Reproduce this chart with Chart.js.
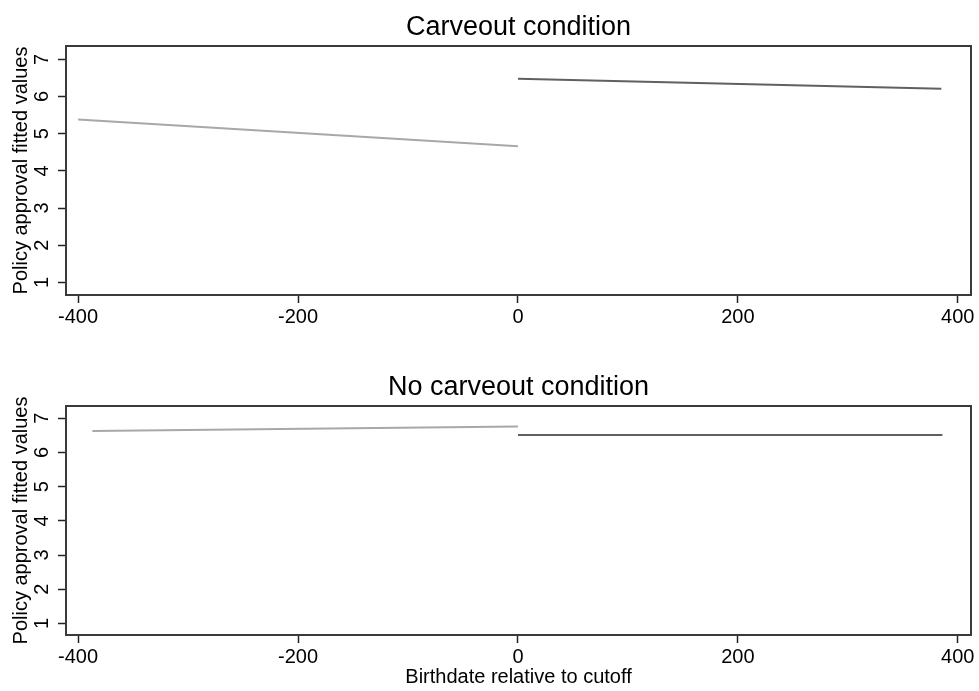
<!DOCTYPE html>
<html>
<head>
<meta charset="utf-8">
<script src="https://cdn.jsdelivr.net/npm/chart.js@4/dist/chart.umd.min.js"></script>
<style>
  html, body { margin: 0; padding: 0; background: #fff; }
  #wrap { position: relative; width: 979px; height: 691px; }
  .panel { position: absolute; left: 0; width: 979px; }
  #top { top: 0; height: 340px; }
  #bottom { top: 340px; height: 351px; }
</style>
</head>
<body>
<div id="wrap">
  <div class="panel" id="top"><canvas id="carveChart"></canvas></div>
  <div class="panel" id="bottom"><canvas id="noCarveChart"></canvas></div>
</div>
<script>
// fitted values on each side of the cutoff (days)
const xTicks = [-400, -200, 0, 200, 400];
const yTicks = [1, 2, 3, 4, 5, 6, 7];

const carveLeftX = [-400, 0];
const carveLeftY = [5.38, 4.66];
const carveRightX = [0, 385];
const carveRightY = [6.48, 6.21];

const noCarveLeftX = [-387, 0];
const noCarveLeftY = [6.63, 6.76];
const noCarveRightX = [0, 386];
const noCarveRightY = [6.51, 6.51];

const FONT = 'Liberation Sans, Arial, Helvetica, sans-serif';

// box around the plot region
const frame = {
  id: 'frame',
  afterDraw(chart) {
    const { ctx, chartArea: a } = chart;
    ctx.save();
    ctx.strokeStyle = '#3a3a3a';
    ctx.lineWidth = 2;
    ctx.strokeRect(a.left, a.top, a.right - a.left, a.bottom - a.top);
    ctx.restore();
  }
};

// panel heading centred over the plot region rather than the canvas
const panelTitle = {
  id: 'panelTitle',
  afterDraw(chart, args, o) {
    const { ctx, chartArea: a } = chart;
    ctx.save();
    ctx.fillStyle = '#000';
    ctx.font = '27px ' + FONT;
    ctx.textAlign = 'center';
    ctx.textBaseline = 'middle';
    ctx.fillText(o.text, (a.left + a.right) / 2, o.y);
    ctx.restore();
  }
};

function pts(xs, ys) {
  return xs.map((x, i) => ({ x, y: ys[i] }));
}

function makePanel(id, title, left, right, opts) {
  return new Chart(document.getElementById(id), {
    type: 'scatter',
    data: {
      datasets: [
        { data: pts(left.x, left.y), showLine: true, borderColor: '#a8a8a8', borderWidth: 2, pointRadius: 0 },
        { data: pts(right.x, right.y), showLine: true, borderColor: '#606060', borderWidth: 2, pointRadius: 0 }
      ]
    },
    options: {
      responsive: true,
      maintainAspectRatio: false,
      animation: false,
      layout: { padding: { left: 0, right: 8, top: opts.top, bottom: 0 } },
      plugins: {
        legend: { display: false },
        tooltip: { enabled: false },
        title: { display: false },
        panelTitle: { text: title, y: opts.titleY }
      },
      scales: {
        x: {
          type: 'linear',
          min: -411,
          max: 412,
          afterBuildTicks: (s) => { s.ticks = xTicks.map((v) => ({ value: v })); },
          afterFit: (s) => { s.height = opts.xHeight; },
          ticks: { color: '#000', font: { family: FONT, size: 20 }, padding: 2, maxRotation: 0, autoSkip: false },
          grid: { drawOnChartArea: false, drawTicks: true, tickLength: 8, color: '#222', tickWidth: 1.5 },
          border: { display: false },
          title: {
            display: !!opts.xTitle,
            text: opts.xTitle || '',
            color: '#000',
            font: { family: FONT, size: 20 },
            padding: { top: 0, bottom: 2 }
          }
        },
        y: {
          min: 0.66,
          max: 7.36,
          afterBuildTicks: (s) => { s.ticks = yTicks.map((v) => ({ value: v })); },
          afterFit: (s) => { s.width = 66; },
          ticks: {
            color: '#000', font: { family: FONT, size: 20 },
            minRotation: 90, maxRotation: 90, crossAlign: 'center', padding: 10, autoSkip: false
          },
          grid: { drawOnChartArea: false, drawTicks: true, tickLength: 8, color: '#222', tickWidth: 1.5 },
          border: { display: false },
          title: {
            display: true,
            text: 'Policy approval fitted values',
            color: '#000',
            font: { family: FONT, size: 20 },
            padding: { top: 9, bottom: 0 }
          }
        }
      }
    },
    plugins: [frame, panelTitle]
  });
}

makePanel('carveChart', 'Carveout condition',
  { x: carveLeftX, y: carveLeftY }, { x: carveRightX, y: carveRightY },
  { top: 46, titleY: 28, xHeight: 45 });

makePanel('noCarveChart', 'No carveout condition',
  { x: noCarveLeftX, y: noCarveLeftY }, { x: noCarveRightX, y: noCarveRightY },
  { top: 66, titleY: 48, xHeight: 56, xTitle: 'Birthdate relative to cutoff' });
</script>
</body>
</html>
